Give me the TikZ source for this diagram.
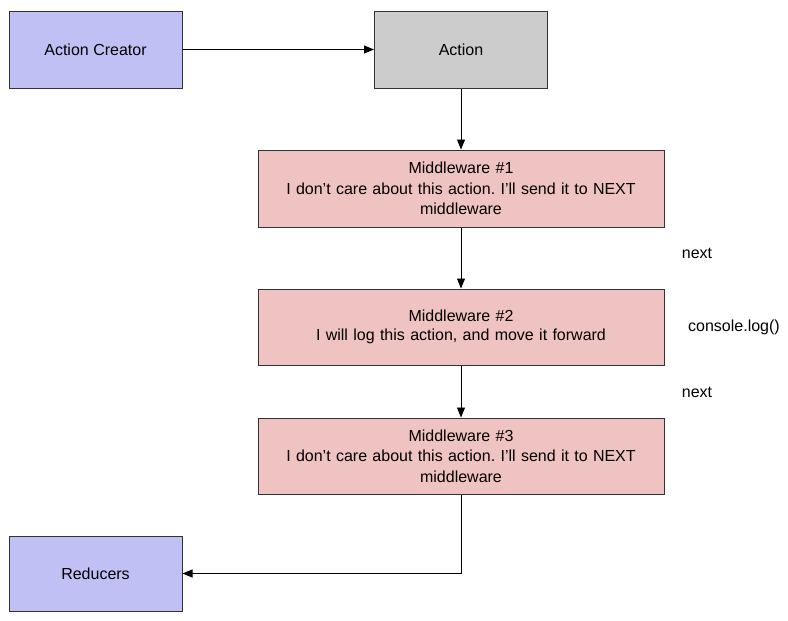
\documentclass[tikz,border=0pt]{standalone}
\usepackage{fontspec}
\setmainfont{Liberation Sans}
\usetikzlibrary{arrows.meta}
\definecolor{bluefill}{HTML}{C0C0F5}
\definecolor{grayfill}{HTML}{CCCCCC}
\definecolor{pinkfill}{HTML}{EFC3C1}
\definecolor{edgecol}{HTML}{333333}
\begin{document}
\frenchspacing
\begin{tikzpicture}[x=1pt,y=-1pt,
  box/.style={draw=edgecol,line width=1pt,rectangle,inner sep=0pt,font=\fontsize{16}{20.5}\selectfont,align=center},
  smallbox/.style={box,minimum width=173pt,minimum height=77pt},
  midbox/.style={box,minimum width=406pt,minimum height=77pt,fill=pinkfill,text width=395pt},
  conn/.style={draw=black,line width=0.9pt,-{Triangle[length=10pt,width=8pt]}},
  lbl/.style={font=\fontsize{16}{20}\selectfont}]
\useasboundingbox (0,0) rectangle (788,621);
\node[smallbox,fill=bluefill] (ac) at (95.5,49.5) {Action Creator};
\node[smallbox,fill=grayfill] (act) at (461,49.5) {Action};
\node[midbox] (m1) at (461,188.5) {Middleware \#1\\I don’t care about this action. I’ll send it to NEXT\\middleware};
\node[midbox,minimum height=76pt] (m2) at (461,327) {Middleware \#2\\[-2pt]I will log this action, and move it forward};
\node[midbox,minimum height=76pt] (m3) at (461,456) {Middleware \#3\\I don’t care about this action. I’ll send it to NEXT\\middleware};
\node[smallbox,fill=bluefill,minimum height=75pt] (red) at (95.5,573.5) {Reducers};
\node[lbl] (n1) at (697,253) {next};
\node[lbl] (cl) at (734,327) {console.log()};
\node[lbl] (n2) at (697,392) {next};
\draw[conn] (ac.east) -- (act.west);
\draw[conn] (act.south) -- (m1.north);
\draw[conn] (m1.south) -- (m2.north);
\draw[conn] (m2.south) -- (m3.north);
\draw[conn] (m3.south) |- (red.east);
\end{tikzpicture}
\end{document}
